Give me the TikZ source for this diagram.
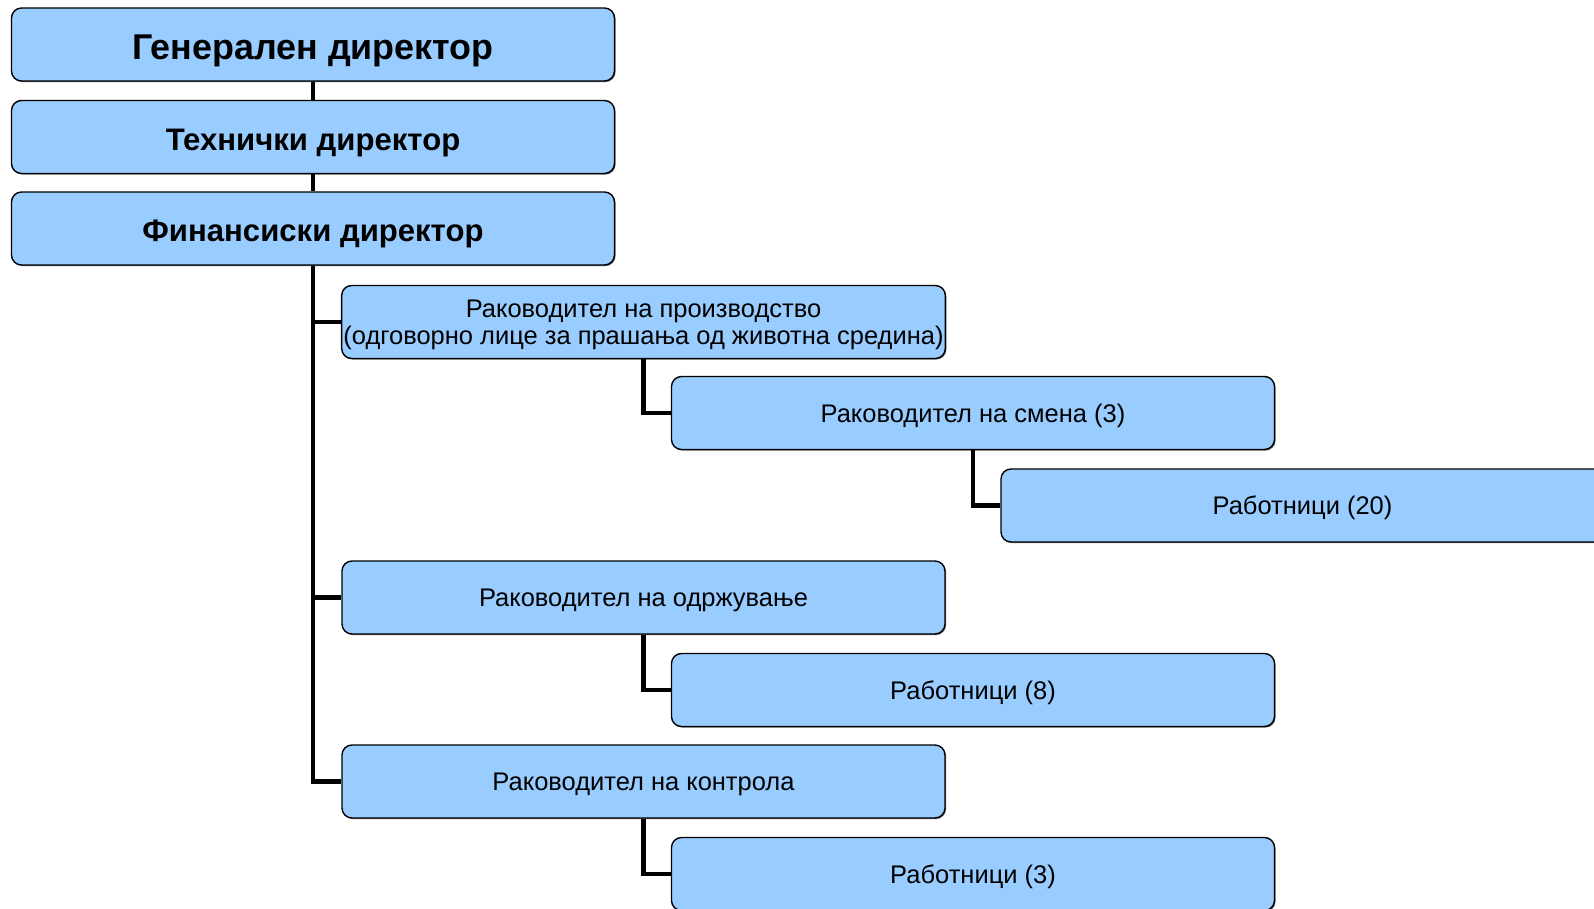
\documentclass[tikz,border=0pt]{standalone}
\usepackage{fontspec}
\setmainfont{Liberation Sans}
\usetikzlibrary{shadows}
\definecolor{boxblue}{HTML}{99CCFF}

\tikzset{basenode/.style={rectangle, rounded corners=0.2cm, draw, line width=0.8pt, fill=boxblue, minimum width=12.06cm, minimum height=1.46cm, align=center, inner sep=1pt, drop shadow={shadow xshift=0.6pt, shadow yshift=-0.6pt, opacity=0.6, fill=black}}}
\tikzset{chiefnode/.style={basenode, text height=15pt, text depth=0pt, font=\bfseries\fontsize{17.7}{21}\selectfont}}
\tikzset{staffnode/.style={basenode, text depth=0pt, font=\fontsize{14.5}{15.2}\selectfont}}
\tikzset{linkline/.style={line width=2.6pt}}

\begin{document}
\begin{tikzpicture}
		\clip (0,0) rectangle (31.88,-18.16);

		%directors
		\node[chiefnode, text height=17.5pt, font=\bfseries\fontsize{20.4}{24}\selectfont] (gen) at (6.26,-0.89) {Генерален директор};
		\node[chiefnode] (tech) at (6.26,-2.74) {Технички директор};
		\node[chiefnode] (fin) at (6.26,-4.57) {Финансиски директор};

		%managers
		\node[staffnode] (prod) at (12.87,-6.44) {Раководител на производство\\(одговорно лице за прашања од животна средина)};
		\node[staffnode] (shift) at (19.46,-8.26) {Раководител на смена (3)};
		\node[staffnode] (work20) at (26.05,-10.11) {Работници (20)};

		\node[staffnode] (maint) at (12.87,-11.95) {Раководител на одржување};
		\node[staffnode] (work8) at (19.46,-13.80) {Работници (8)};

		\node[staffnode] (ctrl) at (12.87,-15.63) {Раководител на контрола};
		\node[staffnode] (work3) at (19.46,-17.48) {Работници (3)};

		%links
		\draw[linkline] (gen) -- (tech);
		\draw[linkline] (tech) -- (fin);
		\draw[linkline] (fin.south) |- (prod.west);
		\draw[linkline] (fin.south) |- (maint.west);
		\draw[linkline] (fin.south) |- (ctrl.west);

		\draw[linkline] (prod.south) |- (shift.west);
		\draw[linkline] (shift.south) |- (work20.west);
		\draw[linkline] (maint.south) |- (work8.west);
		\draw[linkline] (ctrl.south) |- (work3.west);

	\end{tikzpicture}
\end{document}
